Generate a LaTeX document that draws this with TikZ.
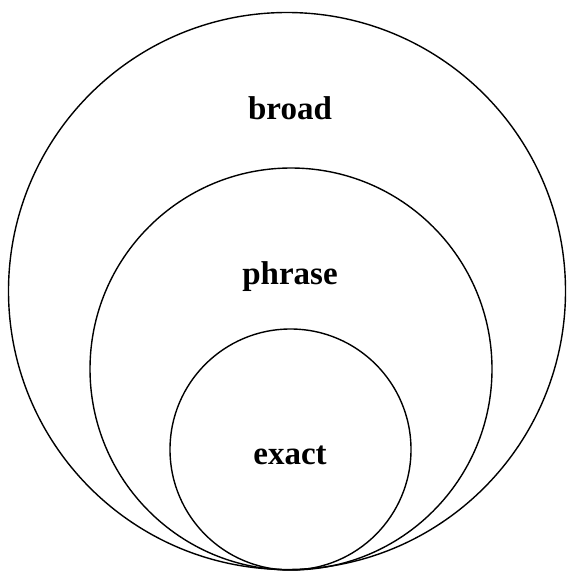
\documentclass[tikz,border=0pt]{standalone}
\usepackage{fontspec}
\setmainfont{Liberation Serif}
\begin{document}
\begin{tikzpicture}[x=1pt,y=-1pt,
  ring/.style={draw=black,line width=1.4pt},
  lbl/.style={font=\fontsize{33}{38}\selectfont\bfseries,anchor=base,inner sep=0pt}]
\useasboundingbox (0,0) rectangle (571,572);
\node[ring,circle,minimum size=557pt,inner sep=0pt] (outer) at (287,291) {};
\node[ring,circle,minimum size=402pt,inner sep=0pt] (middle) at (291,369) {};
\node[ring,circle,minimum size=241pt,inner sep=0pt] (inner) at (290.5,449.5) {};
\node[lbl] (broad) at (290,120) {broad};
\node[lbl] (phrase) at (290,284) {phrase};
\node[lbl] (exact) at (290,464) {exact};
\end{tikzpicture}
\end{document}
